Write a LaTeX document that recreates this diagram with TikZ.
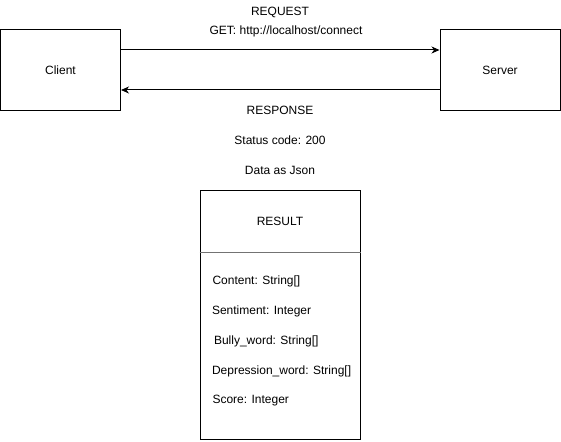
\documentclass[tikz,border=0pt]{standalone}
\usepackage{fontspec}
\setmainfont{Liberation Sans}
\usetikzlibrary{arrows.meta}
\usetikzlibrary{positioning}

\begin{document}
\begin{tikzpicture}[->,>={Stealth[length=8pt,width=7pt,inset=2.5pt]},x=1pt,y=-1pt,line width=1pt,font=\fontsize{12}{14}\selectfont,
	box/.style={draw,-,rectangle,minimum width=120pt,minimum height=80pt,inner sep=0pt},
	label/.style={inner sep=0pt},
	field/.style={inner sep=0pt,anchor=west}]
			\useasboundingbox (0,0) rectangle (561,441);
			\node[box] (client) at (60.5,70) {Client};
			\node[box] (server) at (500,70) {Server};
			\node[label] (request) at (280,12) {REQUEST};
			\node[label] (get) at (286,31) {GET: http://localhost/connect};
			\node[label] (response) at (280,110) {RESPONSE};
			\node[label] (status) at (280,140) {Status code: 200};
			\node[label] (data) at (280,170) {Data as Json};
			\draw  ([yshift=20pt]client.east) -- ([yshift=20pt]server.west);
			\draw  ([yshift=-20pt]server.west) -- ([yshift=-20pt]client.east);
			\node[box,minimum width=160pt,minimum height=249pt] (result) at (280,314.5) {};
			\node[label,minimum width=160pt,minimum height=62pt,below=0pt of result.north] (resulthead) {RESULT};
			\draw[-,black!55,line width=1.5pt]  (resulthead.south west) -- (resulthead.south east);
			\node[field] (content) at (212,281) {Content: String[]};
			\node[field] (sentiment) at (211.5,311) {Sentiment: Integer};
			\node[field] (bully) at (213.5,341) {Bully\_word: String[]};
			\node[field] (depression) at (211.5,371) {Depression\_word: String[]};
			\node[field] (score) at (212,401) {Score: Integer};
			\end{tikzpicture}
\end{document}
